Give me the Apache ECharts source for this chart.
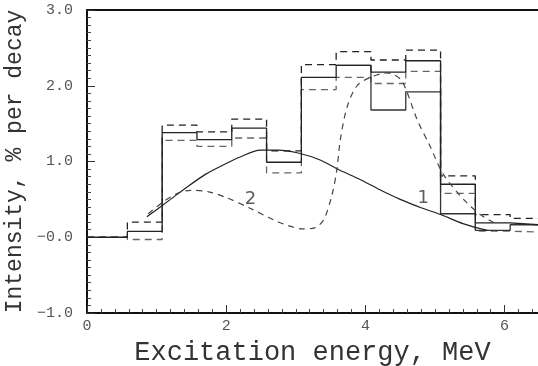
<!DOCTYPE html>
<html>
<head>
<meta charset="utf-8">
<script src="https://cdn.jsdelivr.net/npm/echarts@6/dist/echarts.min.js"></script>
<style>
  html, body { margin: 0; padding: 0; background: #fff; }
  #chart { width: 538px; height: 366px; }
</style>
</head>
<body>
<div id="chart"></div>
<script>
  // bin edges, MeV
  const binEdges = [0, 0.58, 1.08, 1.58, 2.08, 2.58, 3.08, 3.58, 4.08, 4.58, 5.08, 5.58, 6.08, 6.48];
  // main histogram and its band
  const histMain = [0, 0.077, 1.38, 1.29, 1.44, 0.99, 2.11, 2.27, 2.18, 2.33, 0.70, 0.19, 0.165];
  const histUpper = [0, 0.20, 1.48, 1.39, 1.56, 1.14, 2.28, 2.45, 2.34, 2.47, 0.81, 0.30, 0.25];
  const histLower = [0, -0.03, 1.28, 1.20, 1.31, 0.85, 1.95, 2.11, 2.03, 2.19, 0.58, 0.08, 0.07];
  // second solid histogram (only where it differs)
  const altEdges = [3.58, 4.08, 4.58, 5.08, 5.58, 6.08, 6.48];
  const histAlt = [2.27, 1.68, 1.92, 0.31, 0.09, 0.165];

  // curve 1 (solid)
  const curve1X = [0.86, 1.2, 1.39, 1.7, 1.97, 2.2, 2.49, 2.75, 3.02, 3.35, 3.62, 3.93, 4.2, 4.5, 4.8, 5.08, 5.4, 5.75];
  const curve1Y = [0.27, 0.5, 0.63, 0.83, 0.96, 1.06, 1.15, 1.15, 1.115, 1.02, 0.89, 0.76, 0.63, 0.50, 0.39, 0.30, 0.18, 0.09];
  // curve 2 (dashed)
  const curve2X = [0.88, 1.1, 1.3, 1.49, 1.75, 2.01, 2.35, 2.68, 2.9, 3.1, 3.26, 3.40, 3.52, 3.59, 3.64, 3.74, 3.88, 4.07, 4.31, 4.5, 4.6, 4.74, 4.93, 5.12, 5.41, 5.65, 5.85];
  const curve2Y = [0.31, 0.47, 0.58, 0.62, 0.6, 0.52, 0.38, 0.23, 0.15, 0.11, 0.12, 0.23, 0.56, 0.89, 1.29, 1.73, 2.0, 2.11, 2.17, 2.09, 1.91, 1.56, 1.20, 0.83, 0.50, 0.30, 0.19];

  const curveLabels = ['1', '2'];
  const curveLabelX = [4.83, 2.35];
  const curveLabelY = [0.52, 0.50];

  const yTickValues = [-1, 0, 1, 2, 3];
  const yTickLabels = ['\u22121.0', '\u22120.0', '1.0', '2.0', '3.0'];

  function stepPoints(edges, vals) {
    const pts = [];
    for (let i = 0; i < vals.length; i++) pts.push([edges[i], vals[i]]);
    pts.push([edges[vals.length], vals[vals.length - 1]]);
    return pts;
  }
  function zip(xs, ys) {
    return xs.map((x, i) => [x, ys[i]]);
  }

  const chart = echarts.init(document.getElementById('chart'));
  const mono = 'Liberation Mono';

  chart.setOption({
    animation: false,
    grid: {left: 87, right: 0, top: 10, bottom: 53, containLabel: false, outerBoundsMode: 'none'},
    xAxis: [
      {
        type: 'value',
        min: 0, max: 6.48, interval: 2,
        name: 'Excitation energy, MeV',
        nameLocation: 'middle',
        nameGap: 25,
        nameTextStyle: {fontFamily: mono, fontSize: 27, color: '#333'},
        axisLine: {show: true, onZero: false, lineStyle: {color: '#111', width: 2}},
        axisTick: {show: true, inside: true, length: 8, lineStyle: {color: '#333'}},
        minorTick: {show: true, splitNumber: 10, length: 4, lineStyle: {color: '#444'}},
        axisLabel: {fontFamily: mono, fontSize: 15, color: '#555', margin: 6, showMaxLabel: false},
        splitLine: {show: false},
      },
      {
        // top frame line
        type: 'value', position: 'top',
        min: 0, max: 6.48,
        axisLine: {show: true, onZero: false, lineStyle: {color: '#111', width: 2}},
        axisTick: {show: false},
        axisLabel: {show: false},
        splitLine: {show: false},
      },
    ],
    yAxis: {
      type: 'value',
      min: -1, max: 3, interval: 1,
      name: 'Intensity, % per decay',
      nameLocation: 'middle',
      nameGap: 50,
      nameTextStyle: {fontFamily: mono, fontSize: 23, color: '#333'},
      axisLine: {show: true, onZero: false, lineStyle: {color: '#111', width: 2}},
      axisTick: {show: true, inside: true, length: 8, lineStyle: {color: '#333'}},
      minorTick: {show: true, splitNumber: 10, length: 4, lineStyle: {color: '#444'}},
      axisLabel: {
        fontFamily: mono, fontSize: 15, color: '#555', margin: 14,
        formatter: v => yTickLabels[yTickValues.indexOf(v)],
      },
      splitLine: {show: false},
    },
    series: [
      {
        type: 'line', step: 'end', symbol: 'none', silent: true,
        data: stepPoints(binEdges, histUpper),
        lineStyle: {color: '#222', width: 1.3, type: [7, 5]},
      },
      {
        type: 'line', step: 'end', symbol: 'none', silent: true,
        data: stepPoints(binEdges, histLower),
        lineStyle: {color: '#666', width: 1.3, type: [7, 5]},
      },
      {
        type: 'line', step: 'end', symbol: 'none', silent: true,
        data: stepPoints(altEdges, histAlt),
        lineStyle: {color: '#333', width: 1.3},
      },
      {
        type: 'line', step: 'end', symbol: 'none', silent: true,
        data: stepPoints(binEdges, histMain),
        lineStyle: {color: '#222', width: 1.3},
      },
      {
        type: 'line', smooth: 0.3, symbol: 'none', silent: true,
        data: zip(curve1X, curve1Y),
        lineStyle: {color: '#222', width: 1.2},
      },
      {
        type: 'line', smooth: 0.3, symbol: 'none', silent: true,
        data: zip(curve2X, curve2Y),
        lineStyle: {color: '#444', width: 1.2, type: [6, 5]},
      },
      {
        type: 'scatter', symbolSize: 0, silent: true,
        data: curveLabels.map((t, i) => ({value: [curveLabelX[i], curveLabelY[i]], name: t})),
        label: {
          show: true, position: 'inside', formatter: p => p.name,
          fontFamily: 'DejaVu Sans', fontSize: 18, color: '#333',
        },
      },
    ],
  });
</script>
</body>
</html>
